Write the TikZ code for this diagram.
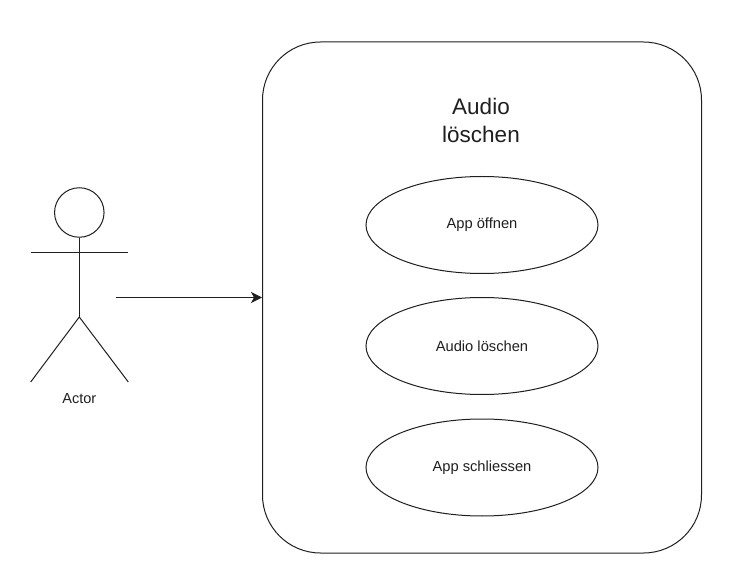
\documentclass[tikz,border=0pt]{standalone}
\usepackage{fontspec}
\setmainfont{Liberation Sans}
\usetikzlibrary{shapes.geometric,arrows.meta}
\definecolor{stroke}{gray}{0.12}
\tikzset{
  uc/.style={draw=stroke,ellipse,minimum width=232pt,minimum height=97pt,inner sep=0pt,font=\fontsize{14.7}{17}\selectfont,text=stroke,line width=1pt},
  ln/.style={draw=stroke,line width=1pt}
}
\begin{document}
\begin{tikzpicture}[x=1pt,y=-1pt]
\useasboundingbox (0,0) rectangle (737,580);
\node[draw=stroke,line width=1pt,rounded corners=58pt,minimum width=439pt,minimum height=511pt,inner sep=0pt] (sys) at (482,297.5) {};
\node[align=center,text=stroke,font=\fontsize{22.5}{28}\selectfont] (title) at (481,120.5) {Audio\\löschen};
\node[uc] (a) at (482,225) {App öffnen};
\node[uc] (b) at (482,346) {Audio löschen};
\node[uc] (c) at (482,467.5) {App schliessen};
\node[draw=stroke,circle,line width=1pt,minimum size=49.5pt,inner sep=0pt] (head) at (79.3,212.5) {};
\coordinate (hip) at (79.3,317);
\coordinate (armL) at (30.7,253);
\coordinate (armR) at (128.3,253);
\coordinate (footL) at (30.7,382);
\coordinate (footR) at (128.3,382);
\coordinate (src) at (116,297.5);
\draw[ln] (head.south) -- (hip);
\draw[ln] (armL) -- (armR);
\draw[ln] (footL) -- (hip) -- (footR);
\node[font=\fontsize{14.5}{17}\selectfont,text=stroke] (actor) at (79.3,399) {Actor};
\draw[ln,-{Stealth[length=11pt,width=11pt,inset=3pt]}] (src) -- (sys.west);
\end{tikzpicture}
\end{document}
